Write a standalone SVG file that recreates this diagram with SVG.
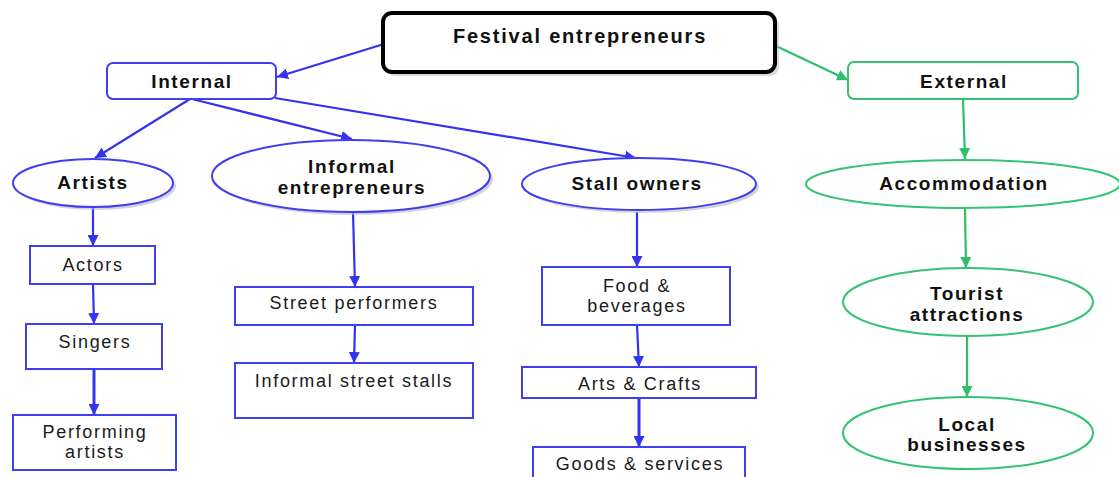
<svg xmlns="http://www.w3.org/2000/svg" width="1119" height="477" viewBox="0 0 1119 477">
<style>
.bg{fill:#ffffff}
.bn{fill:#ffffff;stroke:#3f3ff2;stroke-width:2}
.gn{fill:#ffffff;stroke:#35c275;stroke-width:2}
.sh{fill:#b8b8c0;stroke:none}
.top{fill:#ffffff;stroke:#000000;stroke-width:4}
.bt{font-family:"Liberation Sans",Arial,sans-serif;font-weight:bold;font-size:19px;letter-spacing:1.6px;fill:#111111;text-anchor:middle}
.tt{font-family:"Liberation Sans",Arial,sans-serif;font-weight:bold;font-size:20px;letter-spacing:1.8px;fill:#111111;text-anchor:middle}
.rt{font-family:"Liberation Sans",Arial,sans-serif;font-size:18px;letter-spacing:1.7px;fill:#1a1a1a;text-anchor:middle}
.bl{stroke:#3333f0;stroke-width:2.2;fill:none;marker-end:url(#ab)}
.blt{stroke:#3333f0;stroke-width:3;fill:none;marker-end:url(#ab)}
.gl{stroke:#2fbf6c;stroke-width:2.2;fill:none;marker-end:url(#ag)}
</style>
<defs>
<marker id="ab" viewBox="0 0 10 10" refX="10" refY="5" markerWidth="11" markerHeight="11" markerUnits="userSpaceOnUse" orient="auto">
<path d="M0,0 L10,5 L0,10 z" fill="#3333f0"/>
</marker>
<marker id="ag" viewBox="0 0 10 10" refX="10" refY="5" markerWidth="11" markerHeight="11" markerUnits="userSpaceOnUse" orient="auto">
<path d="M0,0 L10,5 L0,10 z" fill="#2fbf6c"/>
</marker>
</defs>
<rect class="bg" x="0" y="0" width="1119" height="477"/>

<g id="connectors">
<line class="bl" x1="384" y1="44" x2="277" y2="77"/>
<line class="gl" x1="776" y1="46" x2="848" y2="80"/>
<line class="bl" x1="190" y1="99" x2="95" y2="158"/>
<line class="bl" x1="192" y1="99" x2="352" y2="139"/>
<line class="bl" x1="275" y1="98" x2="636" y2="158"/>
<line class="bl" x1="93" y1="207" x2="93" y2="246"/>
<line class="bl" x1="93" y1="284" x2="94" y2="324"/>
<line class="blt" x1="94" y1="369" x2="94" y2="415"/>
<line class="bl" x1="353" y1="212" x2="355" y2="287"/>
<line class="bl" x1="355" y1="325" x2="354" y2="363"/>
<line class="bl" x1="637" y1="212" x2="637" y2="267"/>
<line class="bl" x1="637" y1="325" x2="639" y2="367"/>
<line class="blt" x1="639" y1="398" x2="639" y2="447"/>
<line class="gl" x1="963" y1="99" x2="965" y2="159"/>
<line class="gl" x1="965" y1="208" x2="966" y2="268"/>
<line class="gl" x1="967" y1="336" x2="967" y2="397"/>
</g>

<g id="festival">
<rect class="sh" x="386" y="17" width="393" height="59" rx="9" opacity="0.5"/>
<rect class="top" x="383" y="13" width="392" height="59" rx="9"/>
<text class="tt" x="580" y="43">Festival entrepreneurs</text>
</g>

<g id="internal">
<rect class="bn" x="107" y="63" width="169" height="36" rx="6"/>
<text class="bt" x="192" y="88">Internal</text>
</g>

<g id="external">
<rect class="gn" x="848" y="62" width="230" height="37" rx="6"/>
<text class="bt" x="964" y="88">External</text>
</g>

<g id="artists">
<ellipse class="sh" cx="96" cy="186" rx="80" ry="24" opacity="0.6"/>
<ellipse class="bn" cx="93" cy="183" rx="80" ry="24"/>
<text class="bt" x="93" y="189">Artists</text>
</g>

<g id="informal">
<ellipse class="sh" cx="354" cy="179" rx="139" ry="36" opacity="0.6"/>
<ellipse class="bn" cx="351" cy="176" rx="139" ry="36"/>
<text class="bt" x="352" y="173">Informal</text>
<text class="bt" x="352" y="194">entrepreneurs</text>
</g>

<g id="stall">
<ellipse class="sh" cx="642" cy="187" rx="117" ry="26" opacity="0.6"/>
<ellipse class="bn" cx="639" cy="184" rx="117" ry="26"/>
<text class="bt" x="637" y="190">Stall owners</text>
</g>

<g id="accommodation">
<ellipse class="gn" cx="963" cy="184" rx="157" ry="24"/>
<text class="bt" x="964" y="190">Accommodation</text>
</g>

<g id="tourist">
<ellipse class="gn" cx="968" cy="302" rx="125" ry="34"/>
<text class="bt" x="967" y="300">Tourist</text>
<text class="bt" x="967" y="321">attractions</text>
</g>

<g id="local">
<ellipse class="gn" cx="968" cy="433" rx="125" ry="36"/>
<text class="bt" x="967" y="431">Local</text>
<text class="bt" x="967" y="451">businesses</text>
</g>

<g id="actors">
<rect class="bn" x="30" y="246" width="125" height="38"/>
<text class="rt" x="93" y="271">Actors</text>
</g>

<g id="singers">
<rect class="bn" x="26" y="324" width="136" height="45"/>
<text class="rt" x="95" y="348">Singers</text>
</g>

<g id="performing">
<rect class="bn" x="13" y="415" width="163" height="55"/>
<text class="rt" x="95" y="438">Performing</text>
<text class="rt" x="95" y="458">artists</text>
</g>

<g id="street-performers">
<rect class="bn" x="235" y="287" width="238" height="38"/>
<text class="rt" x="354" y="309">Street performers</text>
</g>

<g id="informal-stalls">
<rect class="bn" x="235" y="363" width="238" height="55"/>
<text class="rt" x="354" y="387">Informal street stalls</text>
</g>

<g id="food">
<rect class="bn" x="542" y="267" width="188" height="58"/>
<text class="rt" x="637" y="292">Food &amp;</text>
<text class="rt" x="637" y="312">beverages</text>
</g>

<g id="arts">
<rect class="bn" x="522" y="367" width="234" height="31"/>
<text class="rt" x="640" y="390">Arts &amp; Crafts</text>
</g>

<g id="goods">
<rect class="bn" x="533" y="447" width="212" height="40"/>
<text class="rt" x="640" y="470">Goods &amp; services</text>
</g>
</svg>
